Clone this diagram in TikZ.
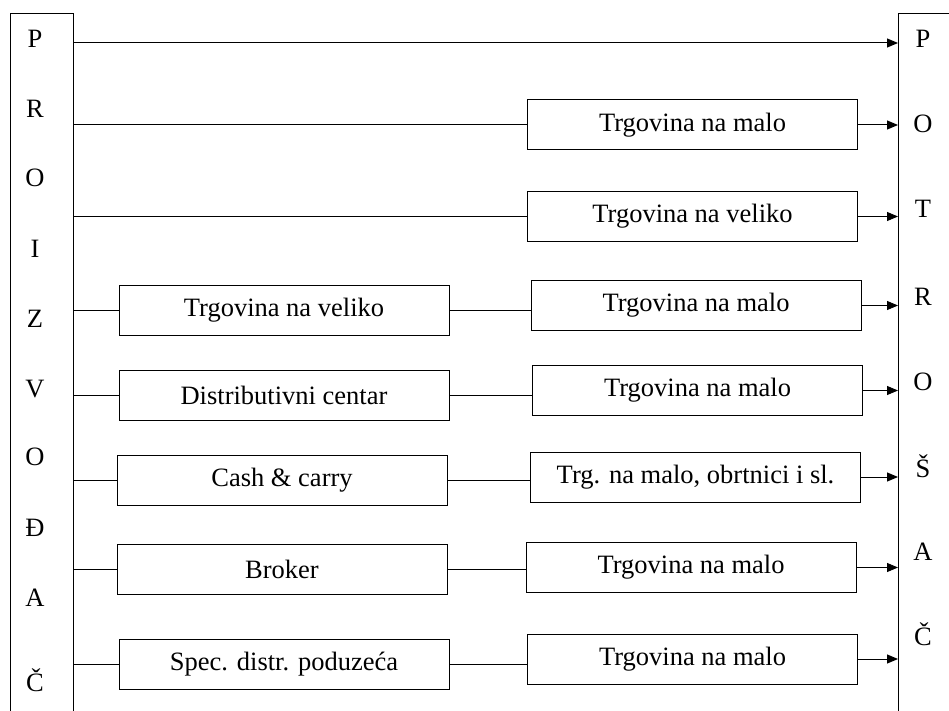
\documentclass[tikz,border=0pt]{standalone}
\usepackage{fontspec}
\setmainfont{Liberation Serif}
\usetikzlibrary{arrows.meta}
\begin{document}
\begin{tikzpicture}[x=1pt,y=-1pt,line width=1pt,
  col/.style={draw, line width=1pt, inner sep=0pt, anchor=north west, minimum height=730pt},
  box/.style={draw, line width=1pt, inner sep=0pt, minimum width=330pt, minimum height=50pt,
    font=\fontsize{26.5}{30}\selectfont},
  ltr/.style={inner sep=0pt, anchor=base, font=\fontsize{26.5}{30}\selectfont},
  arr/.style={-{Triangle[length=11pt,width=9pt]}},
]
\useasboundingbox (0,0) rectangle (949,711);
\begin{scope}
\clip (0,0) rectangle (949,711);
\node[col, minimum width=63pt] (prod) at (10,13) {};
\node[col, minimum width=80pt] (cons) at (898,13) {};
\end{scope}
% left letters
\node[ltr] (pl1) at (35,48) {P};
\node[ltr] (pl2) at (35,118) {R};
\node[ltr] (pl3) at (35,187) {O};
\node[ltr] (pl4) at (35,257) {I};
\node[ltr] (pl5) at (35,327) {Z};
\node[ltr] (pl6) at (35,397) {V};
\node[ltr] (pl7) at (35,465) {O};
\node[ltr] (pl8) at (35,536) {Đ};
\node[ltr] (pl9) at (35,606) {A};
\node[ltr] (pl10) at (35,691) {Č};
% right letters
\node[ltr] (cl1) at (923,48) {P};
\node[ltr] (cl2) at (923,133) {O};
\node[ltr] (cl3) at (923,218) {T};
\node[ltr] (cl4) at (923,305) {R};
\node[ltr] (cl5) at (923,390) {O};
\node[ltr] (cl6) at (923,477) {Š};
\node[ltr] (cl7) at (923,560) {A};
\node[ltr] (cl8) at (923,645) {Č};
% boxes
\node[box] (r2) at (692.5,125) {Trgovina na malo};
\node[box] (r3) at (692.5,216.5) {Trgovina na veliko};
\node[box] (l4) at (284,310.5) {Trgovina na veliko};
\node[box] (r4) at (696,305.5) {Trgovina na malo};
\node[box] (l5) at (284,395.5) {Distributivni centar};
\node[box] (r5) at (697.5,390.5) {Trgovina na malo};
\node[box] (l6) at (282,480.5) {Cash \& carry};
\node[box] (r6) at (695.5,477) {Trg. na malo, obrtnici i sl.};
\node[box] (l7) at (282,569) {Broker};
\node[box] (r7) at (691,567.5) {Trgovina na malo};
\node[box] (l8) at (284,664.5) {Spec. distr. poduzeća};
\node[box] (r8) at (692.5,659) {Trgovina na malo};
% row 1
\coordinate (y1) at (0,43);
\draw[arr] (prod.east |- y1) -- (cons.west |- y1);
% rows 2,3
\draw (prod.east |- r2.west) -- (r2.west);
\draw[arr] (r2.east) -- (cons.west |- r2.east);
\draw (prod.east |- r3.west) -- (r3.west);
\draw[arr] (r3.east) -- (cons.west |- r3.east);
% rows 4-8
\foreach \i in {4,5,6,7,8}{
  \draw (prod.east |- l\i.west) -- (l\i.west);
  \draw (l\i.east) -- (r\i.west |- l\i.east);
  \draw[arr] (r\i.east) -- (cons.west |- r\i.east);
}
\end{tikzpicture}
\end{document}
